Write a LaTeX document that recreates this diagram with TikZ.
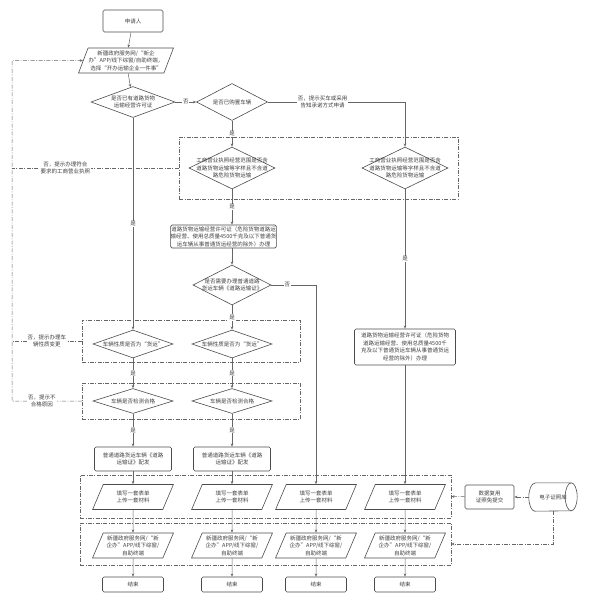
\documentclass[tikz,border=0pt]{standalone}
\usepackage{fontspec}
\setmainfont{Noto Sans CJK SC}
\usetikzlibrary{shapes.geometric,arrows.meta}
\tikzset{
  every node/.style={font=\fontsize{5.5}{7.5}\selectfont, text=black!75, align=center},
  box/.style={draw=black!70, line width=0.6pt, rounded corners=1.5pt, inner sep=0pt},
  dia/.style={diamond, draw=black!70, line width=0.6pt, inner sep=0pt},
  para/.style={trapezium, trapezium left angle=65, trapezium right angle=115,
    trapezium stretches=true, draw=black!70, line width=0.6pt, inner sep=0pt,
    minimum width=81pt, minimum height=25pt},
  dd/.style={dash pattern=on 4pt off 1.5pt on 0.8pt off 1.5pt},
  region/.style={draw=black!60, line width=0.5pt, dd, inner sep=0pt},
  arr/.style={draw=black!60, line width=0.5pt, -{Stealth[length=3.2pt,width=2.6pt]}},
  darr/.style={arr, dd},
  dline/.style={draw=black!60, line width=0.5pt, dd},
  lbl/.style={fill=white, inner sep=0.8pt}
}
\begin{document}
\begin{tikzpicture}[x=1pt,y=-1pt]
\useasboundingbox (0,0) rectangle (589,603);
\node[region, minimum width=279pt, minimum height=62pt] (r1) at (318.5,168) {};
\node[region, minimum width=218pt, minimum height=42pt] (rA) at (191,341) {};
\node[region, minimum width=218pt, minimum height=36pt] (rB) at (191,401) {};
\node[region, minimum width=371pt, minimum height=43pt] (rC) at (265.5,496.5) {};
\node[region, minimum width=371pt, minimum height=42pt] (rD) at (265.5,544) {};

\node[box, minimum width=60pt, minimum height=22pt] (a) at (133,21) {申请人};
\node[para, minimum width=95pt] (p1) at (126,60.5) {新疆政府服务网/“新企\\办”APP/线下综窗/自助终端，\\选择“开办运输企业一件事”};
\node[dia, minimum width=84pt, minimum height=31pt, label=center:{是否已有道路货物\\运输经营许可证}] (d1) at (133,102) {};
\node[dia, minimum width=71pt, minimum height=37pt, label=center:{是否已购置车辆}] (d2) at (232,102) {};
\node[dia, minimum width=86pt, minimum height=42pt, label=center:{工商营业执照经营范围是否含\\道路货物运输等字样且不含道\\路危险货物运输}] (d3) at (232,168) {};
\node[dia, minimum width=86pt, minimum height=42pt, label=center:{工商营业执照经营范围是否含\\道路货物运输等字样且不含道\\路危险货物运输}] (d4) at (405,168) {};
\node[box, minimum width=103pt, minimum height=23pt] (b5) at (223.5,236.5) {道路货物运输经营许可证（危险货物道路运\\输经营、使用总质量4500千克及以下普通货\\运车辆从事普通货运经营的除外）办理};
\node[dia, minimum width=78pt, minimum height=40pt, label=center:{是否需要办理普通道路\\货运车辆《道路运输证》}] (d5) at (232,285) {};
\node[box, minimum width=101pt, minimum height=36pt] (bR) at (405,347) {道路货物运输经营许可证（危险货物\\道路运输经营、使用总质量4500千\\克及以下普通货运车辆从事普通货运\\经营的除外）办理};

\foreach \x/\n in {133/a,232/b} {
  \node[dia, minimum width=80pt, minimum height=28pt, label=center:{车辆性质是否为“货运”}] (v\n) at (\x,344) {};
  \node[dia, minimum width=80pt, minimum height=25pt, label=center:{车辆是否检测合格}] (t\n) at (\x,401) {};
  \node[box, minimum width=77pt, minimum height=24pt] (g\n) at (\x,459) {普通道路货运车辆《道路\\运输证》配发};
  \draw[arr] (v\n) -- node[lbl]{是} (t\n);
  \draw[arr] (t\n) -- node[lbl]{是} (g\n);
}
\foreach \x [count=\i] in {133,232,316,405} {
  \node[para] (c\i) at (\x,497) {填写一套表单\\上传一套材料};
  \node[para] (s\i) at (\x,545.5) {新疆政府服务网/“新\\企办”APP/线下综窗/\\自助终端};
  \node[box, minimum width=61pt, minimum height=15pt] (e\i) at (\x,584.5) {结束};
  \draw[arr] (c\i) -- (s\i);
  \draw[arr] (s\i) -- (e\i);
}
\node[box, minimum width=49pt, minimum height=24pt] (db) at (489.5,497) {数据复用\\证照免提交};
\node[minimum width=48pt, minimum height=28pt, inner sep=0pt] (cyl) at (553,497) {电子证照库};
\draw[draw=black!70, line width=0.6pt] ([xshift=6pt]cyl.north west) -- ([xshift=-6pt]cyl.north east)
  arc[start angle=90, end angle=-90, x radius=6pt, y radius=14pt] -- ([xshift=6pt]cyl.south west)
  arc[start angle=270, end angle=90, x radius=6pt, y radius=14pt] -- cycle;
\draw[draw=black!70, line width=0.6pt] ([xshift=-6pt]cyl.north east) arc[start angle=90, end angle=270, x radius=6pt, y radius=14pt];
\coordinate (fb) at (12,60.5);

\draw[arr] (a) -- (p1);
\draw[arr] (p1) -- (d1);
\draw[arr] (d1) -- node[lbl]{否} (d2);
\draw[arr] (d2.east) -| node[lbl, pos=0.2]{否，提示买车或采用\\告知承诺方式申请} (d4.north);
\draw[arr] (d2) -- node[lbl]{是} (d3);
\draw[arr] (d1) -- node[lbl]{是} (va);
\draw[arr] (d3) -- node[lbl]{是} (d3 |- b5.north);
\draw[arr] (b5.south -| d5) -- (d5);
\draw[arr] (d5) -- node[lbl]{是} (vb);
\draw[arr] (d5.east) -| node[lbl, pos=0.18]{否} (c3.north);
\draw[arr] (d4) -- node[lbl]{是} (bR);
\draw[arr] (bR) -- (c4);
\draw[arr] (ga) -- (c1);
\draw[arr] (gb) -- (c2);

\draw[dline] (r1.west) -- node[lbl, pos=0.68]{否，提示办理符合\\要求的工商营业执照} (r1.west -| fb);
\draw[dline] (rA.west) -- node[lbl]{否，提示办理车\\辆性质变更} (rA.west -| fb);
\draw[darr] (rB.west) -- node[lbl, pos=0.57]{否，提示不\\合格原因} (rB.west -| fb) -- (fb) -- (p1.west);

\draw[darr] (cyl) -- (db);
\draw[darr] (db) -- (rC.east);
\draw[darr] (cyl.south) |- (rD.east);
\end{tikzpicture}
\end{document}
